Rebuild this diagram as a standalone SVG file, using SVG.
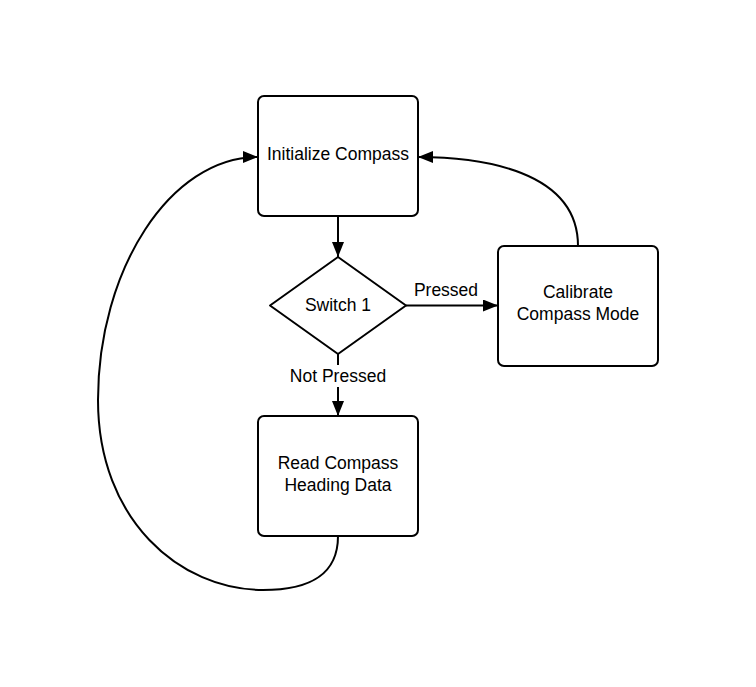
<svg xmlns="http://www.w3.org/2000/svg" width="756" height="687" viewBox="0 0 756 687">
<style>
.box{fill:#fff;stroke:#000;stroke-width:2}
.lbl{font-family:"Liberation Sans",Arial,sans-serif;font-size:17.5px;fill:#000;text-anchor:middle}
.edge{fill:none;stroke:#000;stroke-width:2}
</style>
<defs>
<marker id="ah" viewBox="0 0 15 12" refX="15" refY="6" markerWidth="15" markerHeight="12" markerUnits="userSpaceOnUse" orient="auto">
<path d="M0,0 L15,6 L0,12 Z" fill="#000"/>
</marker>
</defs>
<rect width="756" height="687" fill="#fff"/>
<g id="connectors">
<path class="edge" d="M338,217 L338,257" marker-end="url(#ah)"/>
<path class="edge" d="M406,305.5 L498,305.5" marker-end="url(#ah)"/>
<path class="edge" d="M338,354 L338,416" marker-end="url(#ah)"/>
<path class="edge" d="M578,246 C578,170 480,157 418,157" marker-end="url(#ah)"/>
<path class="edge" d="M338,536 C338,575 310,590 263,590 C180,590 98,520 98,400 C98,270 170,157 258,157" marker-end="url(#ah)"/>
<rect x="282" y="365" width="112" height="22" fill="#fff"/>
<text class="lbl" x="338" y="382">Not Pressed</text>
<text class="lbl" x="446" y="296">Pressed</text>
</g>
<g id="init">
<rect class="box" x="258" y="96" width="160" height="120" rx="6"/>
<text class="lbl" x="338" y="160">Initialize Compass</text>
</g>
<g id="switch">
<polygon class="box" points="338,257 406,305.5 338,354 270,305.5" stroke-linejoin="round"/>
<text class="lbl" x="338" y="311">Switch 1</text>
</g>
<g id="calibrate">
<rect class="box" x="498" y="246" width="160" height="120" rx="6"/>
<text class="lbl" x="578" y="298">Calibrate</text>
<text class="lbl" x="578" y="320">Compass Mode</text>
</g>
<g id="read">
<rect class="box" x="258" y="416" width="160" height="120" rx="6"/>
<text class="lbl" x="338" y="469">Read Compass</text>
<text class="lbl" x="338" y="491">Heading Data</text>
</g>
</svg>
